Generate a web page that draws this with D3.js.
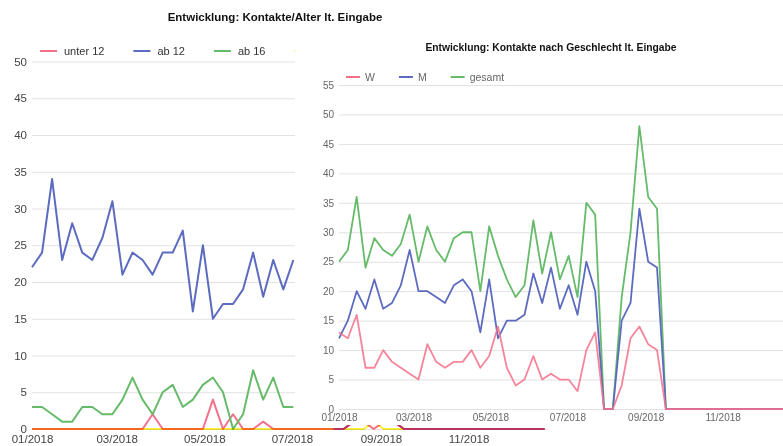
<!DOCTYPE html>
<html>
<head>
<meta charset="utf-8">
<script src="https://cdn.jsdelivr.net/npm/d3@7"></script>
<style>
  body { margin: 0; background: #fff; }
  svg { display: block; }
  text { font-family: Arial, "Liberation Sans", sans-serif; }
</style>
</head>
<body>
<svg id="chart" width="783" height="446"></svg>
<script>
//
// Data
//

// one point per week, starting monday 01/01/2018
var weekCount = 52
var weeks = d3.range(weekCount).map(function (i) { return d3.timeWeek.offset(new Date(2018, 0, 1), i) })

// left chart: contacts by age (only the first half is readable, the rest sits behind the second chart)
var ageNames = ['unter 12', 'ab 12', 'ab 16', 'ab 18', 'ab 27']
var unter12 = [0,0,0,0,0,0,0,0,0,0,0,0,2,0,0,0,0,0,4,0,2,0,0,1,0,0,0,
               0,0,0,0,0,1,1,0,1,1,0,0,0,0,0,0,0,0,0,0,0,0,0,0,0]
var ab12 = [22,24,34,23,28,24,23,26,31,21,24,23,21,24,24,27,16,25,15,17,17,19,24,18,23,19,23,
            null,null,null,null,null,null,null,null,null,null,null,null,null,null,null,null,null,null,null,null,null,null,null,null,null]
var ab16 = [3,3,2,1,1,3,3,2,2,4,7,4,2,5,6,3,4,6,7,5,0,2,8,4,7,3,3,
            null,null,null,null,null,null,null,null,null,null,null,null,null,null,null,null,null,null,null,null,null,null,null,null,null]
var ab18 = [0,0,0,0,0,0,0,0,0,0,0,0,0,0,0,0,0,0,0,0,0,0,0,0,0,0,0,
            0,0,0,0,0,0,0,1,0,0,0,0,0,0,0,0,0,0,0,0,0,0,0,0,0]
var ab27 = [null,null,null,null,null,null,null,null,null,null,null,null,null,null,null,null,null,null,null,null,null,null,null,null,null,null,null,
            null,null,null,0,0,1,1,1,1,1,0,0,0,0,0,0,0,0,0,0,0,0,0,0,0]
var ageTicks = [0, 5, 10, 15, 20, 25, 30, 35, 40, 45, 50]

// right chart: contacts by gender
var genderNames = ['W', 'M', 'gesamt']
var frauen = [13,12,16,7,7,10,8,7,6,5,11,8,7,8,8,10,7,9,14,7,4,5,9,5,6,5,5,3,10,13,0,0,4,12,14,11,10,
              0,0,0,0,0,0,0,0,0,0,0,0,0,0,0]
var maenner = [12,15,20,17,22,17,18,21,27,20,20,19,18,21,22,20,13,22,12,15,15,16,23,18,24,17,21,16,25,20,0,0,15,18,34,25,24,
               0,0,0,0,0,0,0,0,0,0,0,0,0,0,0]
var gesamt = [25,27,36,24,29,27,26,28,33,25,31,27,25,29,30,30,20,31,26,22,19,21,32,23,30,22,26,19,35,33,0,0,19,30,48,36,34,
              0,0,0,0,0,0,0,0,0,0,0,0,0,0,0]
var genderTicks = [0, 5, 10, 15, 20, 25, 30, 35, 40, 45, 50, 55]

//
// Config
//

var colorPink = '#f4708a'
var colorBlue = '#5c6bc0'
var colorGreen = '#66bb6a'
var colorYellow = '#ffee3a'
var colorMaroon = '#b8325f'
var colorGrid = '#e2e2e2'

var svg = d3.select('#chart')
svg.append('rect').attr('width', 783).attr('height', 446).attr('fill', '#fff')

var fmt = d3.timeFormat('%m/%Y')
var firstDay = new Date(2018, 0, 1)

function drawChart(g, opt) {
  var x = d3.scaleTime().domain(opt.xDomain).range(opt.xRange)
  var y = d3.scaleLinear().domain([0, d3.max(opt.yTicks)]).range(opt.yRange)

  // grid + y labels
  var yAxis = g.append('g')
    .attr('transform', 'translate(' + opt.xRange[0] + ',0)')
    .call(d3.axisLeft(y).tickValues(opt.yTicks).tickSize(-(opt.gridEnd - opt.xRange[0])).tickPadding(5))
  yAxis.select('.domain').remove()
  yAxis.selectAll('line').attr('stroke', colorGrid)
  yAxis.selectAll('text').attr('fill', opt.labelColor).style('font-size', opt.fontSize + 'px')

  // x labels
  var xAxis = g.append('g')
    .attr('transform', 'translate(0,' + opt.yRange[0] + ')')
    .call(d3.axisBottom(x).ticks(d3.timeMonth.every(2)).tickFormat(fmt).tickSize(0).tickPadding(opt.xPad))
  xAxis.select('.domain').remove()
  xAxis.selectAll('text').attr('fill', opt.labelColor).style('font-size', opt.fontSize + 'px')

  var line = d3.line()
    .defined(function (d) { return d != null })
    .x(function (d, i) { return x(weeks[i]) })
    .y(function (d) { return y(d) })

  // drawing order may differ from legend order
  var drawOrder = opt.drawOrder || opt.series.map(function (s, i) { return i })
  drawOrder.forEach(function (k) {
    var s = opt.series[k]
    g.append('path')
      .datum(s.values)
      .attr('d', line)
      .attr('fill', 'none')
      .attr('stroke', s.color)
      .attr('stroke-width', opt.lineWidth)
      .attr('stroke-opacity', s.opacity || 1)
      .attr('stroke-linejoin', 'round')
      .style('mix-blend-mode', s.blend || 'normal')
  })

  // legend
  var lx = opt.legendX
  opt.series.forEach(function (s) {
    g.append('line')
      .attr('x1', lx).attr('x2', lx + opt.dash)
      .attr('y1', opt.legendY).attr('y2', opt.legendY)
      .attr('stroke', s.color).attr('stroke-width', 2)
    var t = g.append('text')
      .attr('x', lx + opt.dash + opt.dashGap)
      .attr('y', opt.legendY)
      .attr('dy', '0.35em')
      .attr('fill', opt.legendColor)
      .style('font-size', opt.legendSize + 'px')
      .text(s.name)
    lx += opt.dash + opt.dashGap + t.node().getComputedTextLength() + opt.itemGap
  })

  g.append('text')
    .attr('x', opt.titleX).attr('y', opt.titleY)
    .attr('text-anchor', 'middle')
    .attr('font-weight', 'bold')
    .attr('fill', '#111')
    .style('font-size', opt.titleSize + 'px')
    .text(opt.title)
}

//
// Left chart (age)
//

drawChart(svg.append('g'), {
  title: 'Entwicklung: Kontakte/Alter lt. Eingabe',
  titleX: 275, titleY: 21, titleSize: 11.5,
  xDomain: [firstDay, weeks[weekCount - 1]],
  xRange: [32, 32 + 357 * 1.436],
  gridEnd: 547,
  yRange: [429, 61.5],
  yTicks: ageTicks,
  xPad: 6,
  fontSize: 11.5,
  labelColor: '#444',
  lineWidth: 2,
  legendX: 40, legendY: 51, legendSize: 11, legendColor: '#333',
  dash: 17, dashGap: 7, itemGap: 29,
  series: [
    { name: ageNames[0], values: unter12, color: colorPink },
    { name: ageNames[1], values: ab12, color: colorBlue },
    { name: ageNames[2], values: ab16, color: colorGreen },
    { name: ageNames[3], values: ab18, color: colorYellow, blend: 'multiply' },
    { name: ageNames[4], values: ab27, color: colorMaroon }
  ]
})

//
// Right chart (gender), pasted over the left one
//

var right = svg.append('g')
right.append('rect')
  .attr('x', 295).attr('y', 30)
  .attr('width', 488).attr('height', 395)
  .attr('fill', '#fff')

drawChart(right, {
  title: 'Entwicklung: Kontakte nach Geschlecht lt. Eingabe',
  titleX: 551, titleY: 51, titleSize: 10.3,
  xDomain: [firstDay, weeks[weekCount - 1]],
  xRange: [339, 339 + 357 * 1.262],
  gridEnd: 800,
  yRange: [409, 85],
  yTicks: genderTicks,
  xPad: 5,
  fontSize: 10,
  labelColor: '#666',
  lineWidth: 1.8,
  legendX: 346, legendY: 77, legendSize: 10.5, legendColor: '#666',
  dash: 14, dashGap: 5, itemGap: 24,
  drawOrder: [2, 1, 0],
  series: [
    { name: genderNames[0], values: frauen, color: colorPink, opacity: 0.85 },
    { name: genderNames[1], values: maenner, color: colorBlue },
    { name: genderNames[2], values: gesamt, color: colorGreen }
  ]
})
</script>
</body>
</html>
